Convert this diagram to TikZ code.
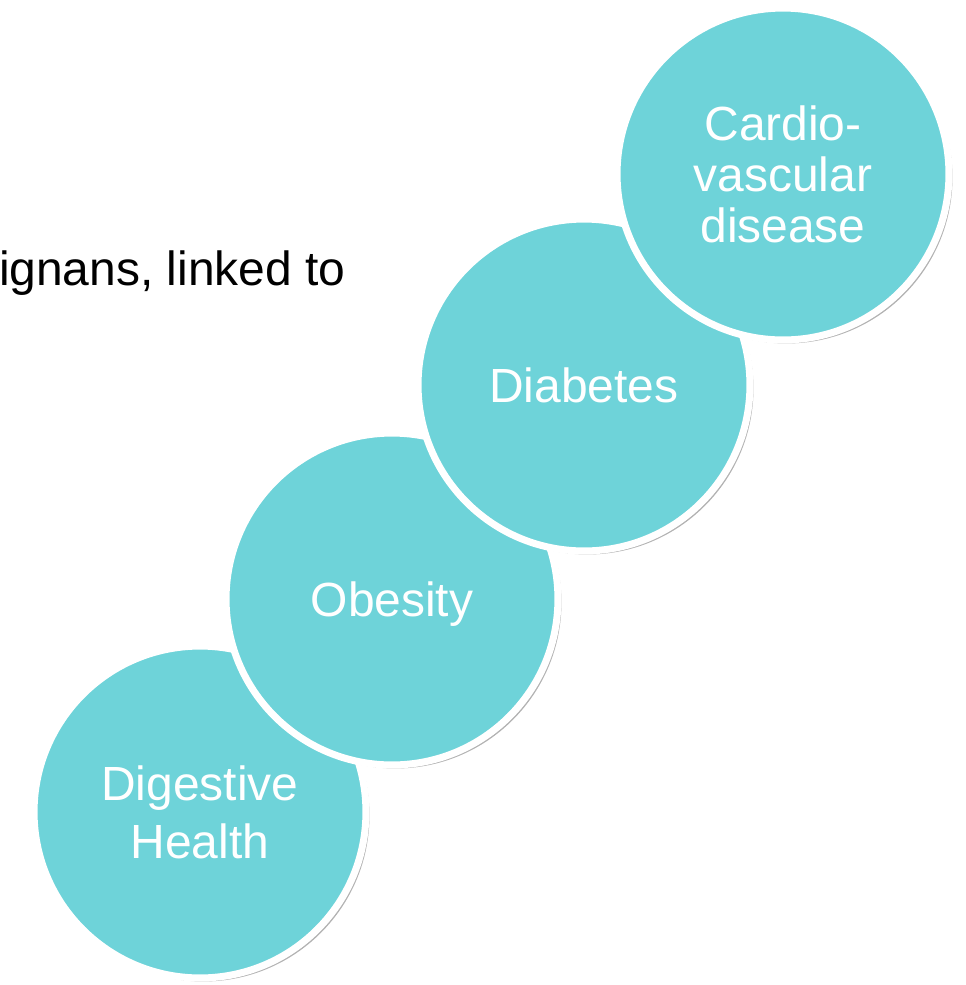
\documentclass[tikz,border=0pt]{standalone}
\usepackage{fontspec}
\setmainfont{Liberation Sans}
\usepackage{xcolor}
\usepackage{tikz}
\usetikzlibrary{shadows}

\definecolor{bubbleteal}{RGB}{110,211,217}

\begin{document}
\begin{tikzpicture}[
    x=0.02cm, y=-0.02cm,
    bubble/.style={circle, draw=white, line width=4pt, fill=bubbleteal, minimum size=6.64cm, inner sep=0pt, align=center, text=white, font=\fontsize{27.3}{29}\selectfont, drop shadow={shadow xshift=2pt, shadow yshift=-2pt, opacity=0.3, fill=black}},
    lead/.style={anchor=base east, inner sep=0pt, font=\fontsize{27.3}{31}\selectfont}
]
    \useasboundingbox (0,0) rectangle (966,985);
    \node[lead] (intro) at (346,285) {ignans, linked to};

    \node[bubble, font=\fontsize{27.3}{33}\selectfont] (digest) at (200,812) {Digestive\\Health};
    \node[bubble, text depth=0pt] (obesity) at (392,599) {Obesity};
    \node[bubble] (diabetes) at (584,385) {Diabetes};
    \node[bubble] (cardio) at (783,174) {Cardio-\\vascular\\disease};
\end{tikzpicture}
\end{document}
